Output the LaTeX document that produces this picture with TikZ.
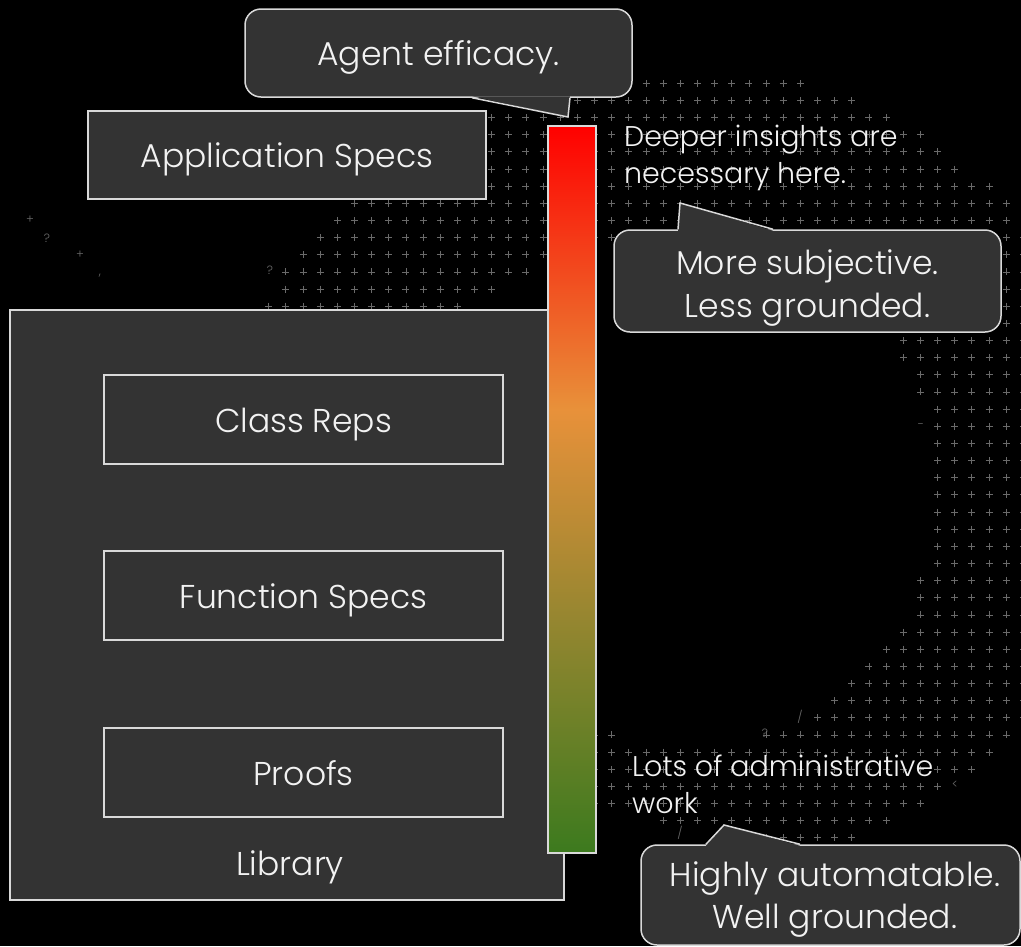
\documentclass[tikz,border=0pt]{standalone}
\usepackage{fontspec}
\setmainfont{Poppins}[UprightFont=* Light]
\usetikzlibrary{calc}

\definecolor{boxfill}{HTML}{333333}
\definecolor{boxline}{HTML}{D9D9D9}
\definecolor{inktext}{HTML}{F2F2F2}
\definecolor{dotgray}{HTML}{6A6A6A}
\definecolor{barred}{HTML}{FF0000}
\definecolor{barredorange}{HTML}{F24A1E}
\definecolor{barorange}{HTML}{E8913A}
\definecolor{barolive}{HTML}{958630}
\definecolor{bargreen}{HTML}{3C7A1E}

% red at the top, orange a little above the middle, green at the bottom
\pgfdeclareverticalshading{effbar}{100bp}{color(0bp)=(bargreen); color(25bp)=(bargreen); color(41bp)=(barolive); color(55.5bp)=(barorange); color(65bp)=(barredorange); color(75bp)=(barred); color(100bp)=(barred)}

\tikzset{
  box/.style={draw=boxline, line width=1.5pt, fill=boxfill, text=inktext,
    font=\fontsize{33}{40}\selectfont, inner sep=0pt,
    text height=25.6pt, text depth=0pt},
  callout/.style={box, rounded corners=16pt},
  tailline/.style={draw=boxline, line width=1.5pt, line join=miter},
  textline/.style={text=inktext, font=\fontsize{33}{40}\selectfont, inner sep=0pt, anchor=base},
  noteline/.style={text=inktext, font=\fontsize{28.5}{36}\selectfont, inner sep=0pt, anchor=base west},
  bgplus/.style={draw=dotgray, line width=0.8pt},
  scatterch/.style={text=dotgray, font=\fontsize{12}{12}\selectfont, inner sep=0pt},
}

\begin{document}
\begin{tikzpicture}[x=1pt, y=-1pt]
\useasboundingbox (0,0) rectangle (1021,946);
\fill[black] (0,0) rectangle (1021,946);

% ring of small plus signs in the background
\foreach \i in {-35,...,24} {
  \foreach \j in {-8,...,37} {
    \pgfmathsetmacro\px{611.7+17.15*\i}
    \pgfmathsetmacro\py{203.3+17.15*\j}
    \pgfmathsetmacro\rxo{\px<699 ? 480 : 414}
    \pgfmathsetmacro\rxi{\px<700 ? 333 : 235}
    \pgfmathparse{(((\px-699)/\rxo)^2+((\py-470)/400)^2<1) && (((\px-700)/\rxi)^2+((\py-490)/252)^2>1) && !((\py<90) && (\px<625)) && !((\py<108) && (\px<575)) && !((\py>805) && (\px<643+3*(\py-819)))}
    \ifdim\pgfmathresult pt>0.5pt
      \draw[bgplus] (\px-3.5,\py) -- (\px+3.5,\py) (\px,\py-3.5) -- (\px,\py+3.5);
    \fi
  }
}
% stray characters at the fringe of the ring
\node[scatterch] (s1) at (30,220) {+};
\node[scatterch] (s2) at (47,238) {?};
\node[scatterch] (s3) at (80,255) {+};
\node[scatterch] (s4) at (100,276) {,};
\node[scatterch] (s5) at (270,270) {?};
\node[scatterch] (s6) at (765,733) {?};
\node[scatterch] (s7) at (800,717) {/};
\node[scatterch] (s8) at (955,785) {<};
\node[scatterch] (s9) at (680,833) {/};
\node[scatterch] (s10) at (921,426) {-};
\node[scatterch] (s11) at (588,66) {+};
\node[scatterch] (s12) at (601,66) {,};
\node[scatterch] (s13) at (613,64) {\textasciitilde};

% library container with its three inner boxes
\node[box, minimum width=554pt, minimum height=590pt] (lib) at (287,605) {};
\node[textline] (libname) at (290,875) {Library};
\node[box, minimum width=399pt, minimum height=89pt] (class) at (303.5,419.5) {Class Reps};
\node[box, minimum width=399pt, minimum height=89pt] (func) at (303.5,595.5) {Function Specs};
\node[box, minimum width=399pt, minimum height=89pt] (proofs) at (303.5,772.5) {Proofs};

\node[box, minimum width=398pt, minimum height=88pt] (app) at (287,155) {Application Specs};

% efficacy scale
\node[draw=boxline, line width=1.2pt, shading=effbar, minimum width=48pt, minimum height=727pt, inner sep=0pt] (bar) at (572,489.5) {};

% callout above the scale
\node[callout, minimum width=387pt, minimum height=88pt] (agent) at (438.5,53) {Agent efficacy.};
\coordinate (agenttip) at (568,117);
\fill[boxfill] ($(agent.south)+(33.5,-1.5)$) -- (agenttip) -- ($(agent.south)+(131.5,-1.5)$) -- cycle;
\draw[tailline] ($(agent.south)+(33.5,0)$) -- (agenttip) -- ($(agent.south)+(131.5,0)$);

% notes beside the scale
\node[noteline] (deeper1) at (624,146.7) {Deeper insights are};
\node[noteline] (deeper2) at (624,183.3) {necessary here.};
\node[noteline] (lots1) at (632,776.7) {Lots of administrative};
\node[noteline] (lots2) at (632,813.3) {work};

% callout: upper end of the scale
\node[callout, minimum width=387pt, minimum height=102pt] (subj) at (807.5,281) {};
\coordinate (subjtip) at (680,203);
\fill[boxfill] ($(subj.north)+(-129.5,1.5)$) -- (subjtip) -- ($(subj.north)+(-34.5,1.5)$) -- cycle;
\draw[tailline] ($(subj.north)+(-129.5,0)$) -- (subjtip) -- ($(subj.north)+(-34.5,0)$);
\node[textline] (subj1) at ($(subj.center)+(0,-6.5)$) {More subjective.};
\node[textline] (subj2) at ($(subj.center)+(0,36.5)$) {Less grounded.};

% callout: lower end of the scale
\node[callout, minimum width=379pt, minimum height=100pt] (auto) at (830.5,895) {};
\coordinate (autotip) at (724,825);
\fill[boxfill] ($(auto.north)+(-124.5,1.5)$) -- (autotip) -- ($(auto.north)+(-30.5,1.5)$) -- cycle;
\draw[tailline] ($(auto.north)+(-124.5,0)$) -- (autotip) -- ($(auto.north)+(-30.5,0)$);
\node[textline] (auto1) at ($(auto.center)+(4.5,-8.3)$) {Highly automatable.};
\node[textline] (auto2) at ($(auto.center)+(4.5,33.3)$) {Well grounded.};
\end{tikzpicture}
\end{document}
